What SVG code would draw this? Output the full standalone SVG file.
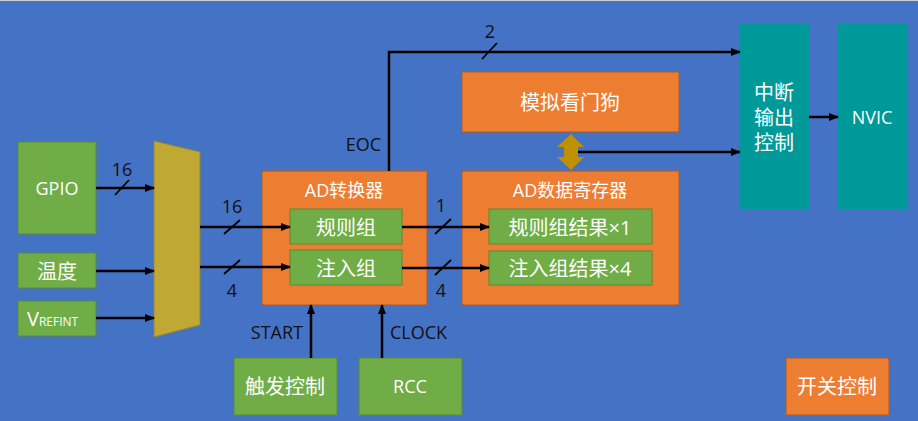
<svg xmlns="http://www.w3.org/2000/svg" width="918" height="421" viewBox="0 0 918 421">
<style>
text{font-family:"Open Sans","Noto Sans CJK SC",sans-serif;}
.g{fill:#70AD47;stroke:#5A8A3A;stroke-width:1}
.o{fill:#ED7D31;stroke:#AE5A21;stroke-width:1}
.t{fill:#009999}
.w{fill:#fff;font-size:18px;text-anchor:middle;dominant-baseline:central}
.w2{fill:#fff;font-size:20px;text-anchor:middle;dominant-baseline:central}
.lb{fill:#111;font-size:18px}
.ln{stroke:#000;stroke-width:2.5;fill:none}
.sl{stroke:#000;stroke-width:1.8;fill:none}
</style>
<defs>
<marker id="ah" markerWidth="10" markerHeight="8" refX="9" refY="4" orient="auto" markerUnits="userSpaceOnUse">
<path d="M0,0 L10,4 L0,8 Z" fill="#000"/>
</marker>
</defs>
<rect width="918" height="421" fill="#4472C4"/>
<line x1="0" y1="0.5" x2="918" y2="0.5" stroke="#c8ccd4" stroke-width="1"/>

<g id="gpio"><rect class="g" x="18" y="142" width="78" height="92"/><text class="w" x="57" y="188">GPIO</text></g>
<g id="temp"><rect class="g" x="18" y="253" width="78" height="35"/><text class="w2" x="57" y="271">温度</text></g>
<g id="vref"><rect class="g" x="18" y="301" width="78" height="35"/><text fill="#fff" font-size="20" x="27" y="326">V<tspan font-size="12">REFINT</tspan></text></g>

<g id="mux"><polygon points="154,141 200,152 200,325 154,337" fill="#BFA834" stroke="#9A8628" stroke-width="1"/></g>

<g id="adc"><rect class="o" x="262" y="171" width="165" height="134"/><text class="w" x="344" y="190">AD转换器</text>
<rect class="g" x="290" y="209" width="112" height="35"/><text class="w2" x="346" y="227">规则组</text>
<rect class="g" x="290" y="250" width="112" height="35"/><text class="w2" x="346" y="268">注入组</text></g>

<g id="dr"><rect class="o" x="462" y="171" width="217" height="134"/><text class="w" x="570" y="190">AD数据寄存器</text>
<rect class="g" x="489" y="209" width="163" height="35"/><text class="w2" x="570" y="227">规则组结果×1</text>
<rect class="g" x="489" y="251" width="163" height="34"/><text class="w2" x="570" y="268">注入组结果×4</text></g>

<g id="wd"><rect class="o" x="462" y="72" width="217" height="60"/><text class="w2" x="570" y="102">模拟看门狗</text></g>

<g id="intc"><rect class="t" x="740" y="24" width="69" height="185"/>
<text class="w2" x="774" y="92">中断<tspan x="774" dy="25">输出</tspan><tspan x="774" dy="25">控制</tspan></text></g>
<g id="nvic"><rect class="t" x="838" y="24" width="69" height="185"/><text class="w" x="872" y="117">NVIC</text></g>

<g id="trig"><rect class="g" x="234" y="358" width="103" height="57"/><text class="w2" x="285" y="386">触发控制</text></g>
<g id="rcc"><rect class="g" x="359" y="358" width="103" height="57"/><text class="w" x="410" y="386">RCC</text></g>
<g id="sw"><rect class="o" x="786" y="358" width="103" height="57"/><text class="w2" x="837" y="386">开关控制</text></g>

<g id="connectors">
<line class="ln" x1="96" y1="188" x2="154" y2="188" marker-end="url(#ah)"/>
<line class="sl" x1="115" y1="195" x2="129" y2="180"/>
<text class="lb" x="122" y="176" text-anchor="middle">16</text>
<line class="ln" x1="96" y1="271" x2="154" y2="271" marker-end="url(#ah)"/>
<line class="ln" x1="96" y1="318" x2="154" y2="318" marker-end="url(#ah)"/>

<line class="ln" x1="200" y1="227" x2="290" y2="227" marker-end="url(#ah)"/>
<line class="sl" x1="224" y1="234" x2="240" y2="220"/>
<text class="lb" x="232" y="213" text-anchor="middle">16</text>
<line class="ln" x1="200" y1="267" x2="290" y2="267" marker-end="url(#ah)"/>
<line class="sl" x1="224" y1="274" x2="240" y2="260"/>
<text class="lb" x="232" y="297" text-anchor="middle">4</text>

<line class="ln" x1="402" y1="227" x2="489" y2="227" marker-end="url(#ah)"/>
<line class="sl" x1="435" y1="234" x2="451" y2="219"/>
<text class="lb" x="441" y="212" text-anchor="middle">1</text>
<line class="ln" x1="402" y1="268" x2="489" y2="268" marker-end="url(#ah)"/>
<line class="sl" x1="435" y1="275" x2="451" y2="260"/>
<text class="lb" x="441" y="297" text-anchor="middle">4</text>

<polyline class="ln" points="389,171 389,52 740,52" marker-end="url(#ah)"/>
<line class="sl" x1="482" y1="59" x2="497" y2="43"/>
<text class="lb" x="490" y="38" text-anchor="middle">2</text>
<text class="lb" x="381" y="151" text-anchor="end">EOC</text>

<polygon points="571,134 584,147 578,147 578,157 584,157 571,170 557,157 564,157 564,147 557,147" fill="#BF9000"/>
<line class="ln" x1="578" y1="152" x2="740" y2="152" marker-end="url(#ah)"/>

<line class="ln" x1="809" y1="117" x2="838" y2="117" marker-end="url(#ah)"/>

<line class="ln" x1="311" y1="358" x2="311" y2="305" marker-end="url(#ah)"/>
<text class="lb" x="303" y="339" text-anchor="end">START</text>
<line class="ln" x1="382" y1="358" x2="382" y2="305" marker-end="url(#ah)"/>
<text class="lb" x="390" y="339">CLOCK</text>
</g>
</svg>
